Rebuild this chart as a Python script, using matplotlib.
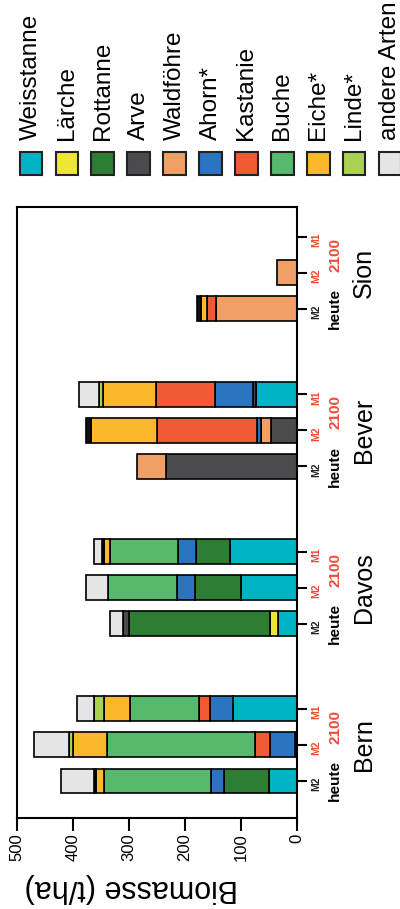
import matplotlib
matplotlib.use("Agg")
import matplotlib.pyplot as plt
from matplotlib.patches import Rectangle
from matplotlib.transforms import blended_transform_factory

plt.rcParams['font.family'] = ['Liberation Sans', 'DejaVu Sans']

# bars: per site heute (M2), 2100 M2, 2100 M1
sites = ['Bern', 'Davos', 'Bever', 'Sion']
scenarios = ['M2', 'M2', 'M1']
periods = ['heute', '2100']

species = ['Weisstanne', 'Lärche', 'Rottanne', 'Arve', 'Waldföhre', 'Ahorn*',
           'Kastanie', 'Buche', 'Eiche*', 'Linde*', 'unbestimmt', 'andere Arten']
colors = ['#00b4c6', '#eee637', '#2e7d35', '#4b4b4e', '#f0a066', '#2b74bf',
          '#f05a35', '#56b96b', '#fbb82b', '#a9d252', '#111111', '#e5e5e5']
in_legend = [True] * 10 + [False, True]

# values in t/ha, order: Bern(heute, M2, M1), Davos, Bever, Sion
weisstanne = [50, 4, 114, 34, 100, 120, 0, 0, 73, 0, 0, 0]
laerche = [0, 0, 0, 15, 0, 0, 0, 0, 0, 0, 0, 0]
rottanne = [81, 0, 0, 251, 83, 60, 0, 0, 0, 0, 0, 0]
arve = [0, 0, 0, 10, 0, 0, 234, 47, 6, 0, 0, 0]
waldfoehre = [0, 0, 0, 0, 0, 0, 51, 18, 0, 144, 36, 0]
ahorn = [22, 44, 42, 0, 32, 32, 0, 6, 68, 0, 0, 0]
kastanie = [0, 27, 19, 0, 0, 0, 0, 179, 105, 17, 0, 0]
buche = [191, 264, 123, 0, 122, 122, 0, 0, 0, 0, 0, 0]
eiche = [15, 61, 46, 0, 0, 10, 0, 117, 94, 11, 0, 0]
linde = [0, 8, 18, 0, 0, 0, 0, 0, 7, 0, 0, 0]
unbestimmt = [3, 0, 0, 0, 0, 5, 0, 10, 0, 6, 0, 0]
andere = [59, 61, 30, 24, 40, 13, 0, 0, 36, 0, 0, 0]

values = [weisstanne, laerche, rottanne, arve, waldfoehre, ahorn,
          kastanie, buche, eiche, linde, unbestimmt, andere]

red = '#f04b35'
group_step = 4.37
pos = [g * group_step + k for g in range(len(sites)) for k in range(3)]

fig = plt.figure(figsize=(4.0, 9.09), dpi=100)
ax = fig.add_axes([0.0425, 0.1001, 0.70, 0.6722])

left = [0] * len(pos)
for name, col, vals in zip(species, colors, values):
    for i, v in enumerate(vals):
        if v > 0:
            ax.barh(pos[i], v, left=left[i], height=0.69, color=col,
                    edgecolor='black', linewidth=1.2)
        left[i] += v

ax.set_xlim(500, 0)
ax.set_ylim(-1.03, 15.94)
ax.set_xticks([0, 100, 200, 300, 400, 500])
ax.tick_params(axis='x', length=9, width=1.5, labelsize=12, labelrotation=90, pad=2)
for s in ax.spines.values():
    s.set_linewidth(1.5)

ax.yaxis.tick_right()
ax.set_yticks(pos, labels=scenarios * len(sites))
ax.tick_params(axis='y', direction='out', length=7, width=1.5, pad=3,
               labelsize=7.5, labelrotation=90)
for i, lab in enumerate(ax.get_yticklabels()):
    lab.set_fontweight('bold')
    lab.set_color('#222222' if i % 3 == 0 else red)

tr = blended_transform_factory(ax.transAxes, ax.transData)
for g, site in enumerate(sites):
    ax.text(1.136, pos[3 * g], periods[0], transform=tr, rotation=90, fontsize=11,
            fontweight='bold', ha='center', va='center')
    ax.text(1.136, (pos[3 * g + 1] + pos[3 * g + 2]) / 2, periods[1], transform=tr,
            rotation=90, fontsize=11, fontweight='bold', color=red, ha='center', va='center')
    ax.text(1.24, pos[3 * g + 1], site, transform=tr, rotation=90, fontsize=18,
            ha='center', va='center')

fig.text(0.3275, 0.023, 'Biomasse (t/ha)', rotation=180, fontsize=22, ha='center', va='center')

# legend
k = 0
for name, col, show in zip(species, colors, in_legend):
    if not show:
        continue
    xc = (31 + 35.9 * k) / 400
    fig.patches.append(Rectangle((xc - 0.0285, 0.8075), 0.057, 0.0253, transform=fig.transFigure,
                                 facecolor=col, edgecolor='#222222', linewidth=1.5))
    fig.text(xc, 0.846, name, rotation=90, fontsize=17.5, ha='center', va='bottom')
    k += 1

fig.savefig('out.png', dpi=100)
